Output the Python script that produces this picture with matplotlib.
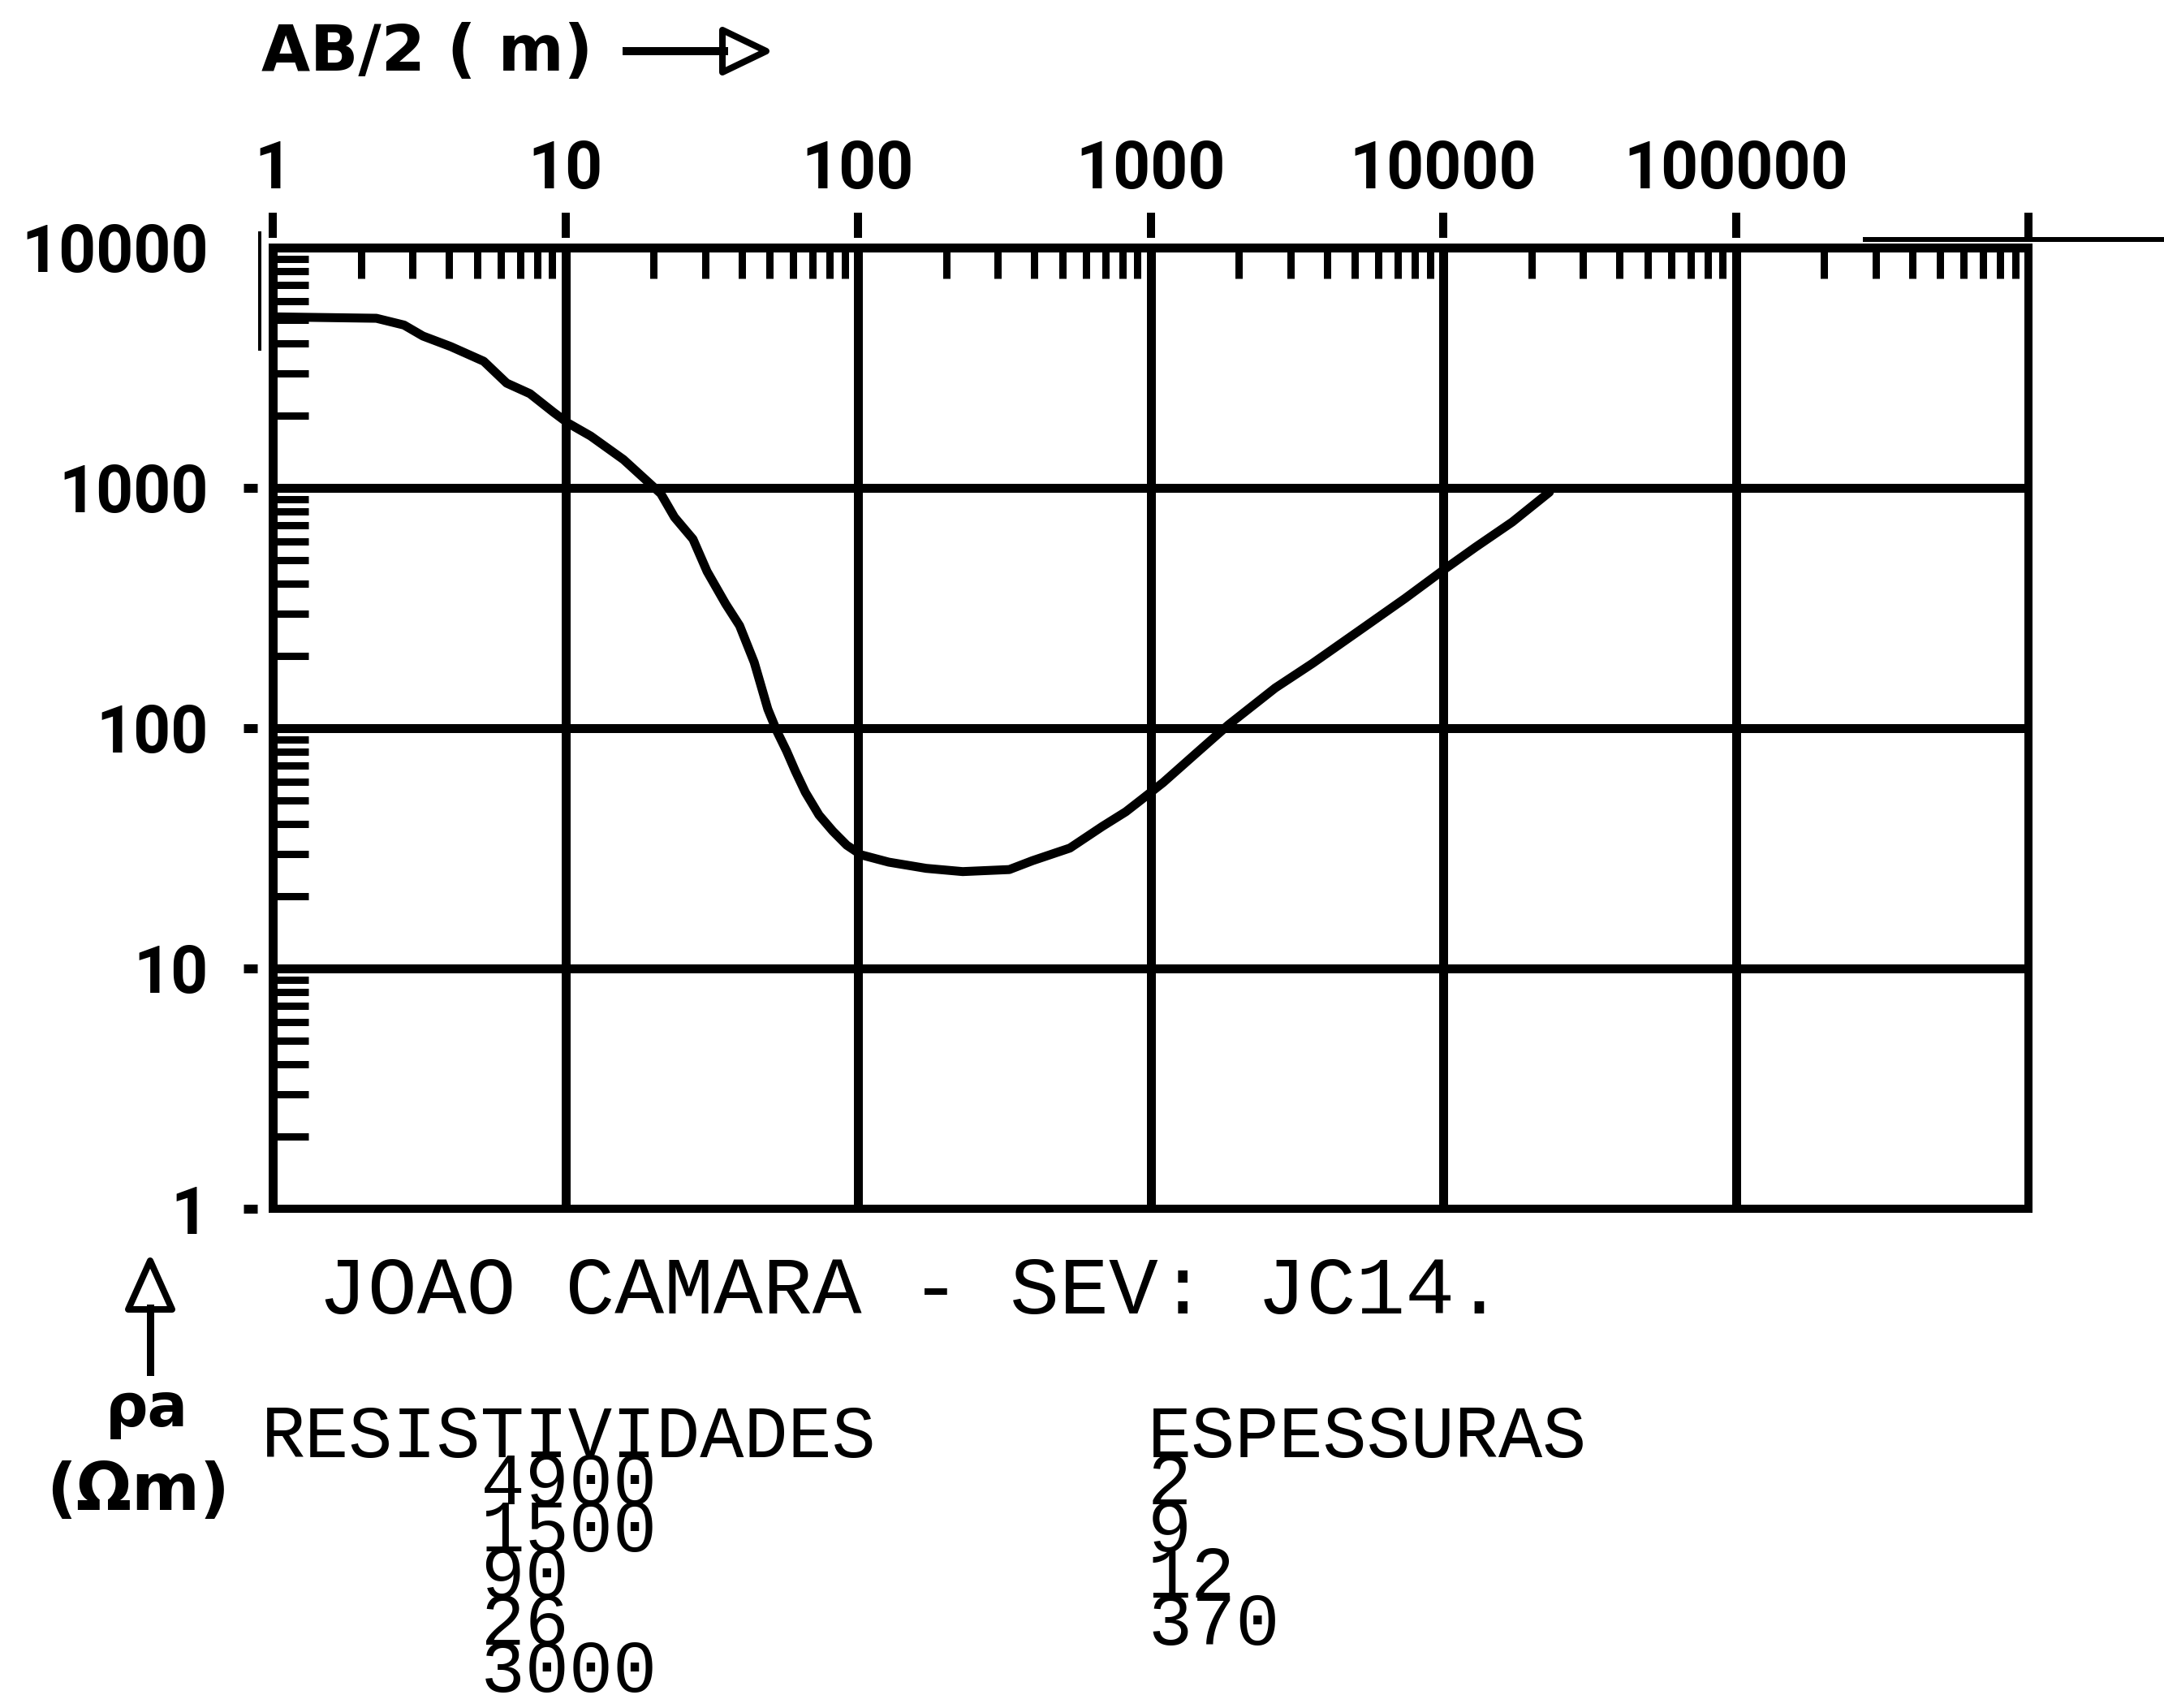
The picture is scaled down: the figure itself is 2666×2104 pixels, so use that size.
import matplotlib
matplotlib.use("Agg")
import matplotlib.pyplot as plt
from matplotlib import font_manager
from matplotlib.lines import Line2D
from matplotlib.patches import Polygon
from matplotlib.ticker import LogLocator, NullFormatter, FixedLocator, FixedFormatter

# ---- sounding curve: apparent resistivity vs half electrode spacing ----
ab2_m = [1.0, 2.26, 2.81, 3.26, 4.06, 5.26, 6.30, 7.57, 9.12, 10.2, 12.2, 15.8,
         19.0, 21.2, 23.6, 27.3, 30.5, 35.3, 39.4, 44.2, 49.2, 52.8, 57.0, 61.1,
         66.1, 73.6, 82.0, 91.5, 102.6, 127.4, 171, 228, 329, 395, 530, 684,
         823, 953, 1104, 1426, 1841, 2667, 3575, 5149, 7413, 10140, 12880,
         17220, 23070]
rho_a = [5150, 5080, 4760, 4285, 3873, 3365, 2729, 2466, 2061, 1862, 1644, 1312,
         1069, 946, 755, 612, 449, 329, 267, 188, 120, 97.3, 80.4, 66.2,
         54.1, 43.5, 37.3, 32.6, 29.7, 27.7, 26.1, 25.3, 25.8, 28.1, 31.7, 39.0,
         44.9, 51.6, 59.4, 78.3, 103, 147, 186, 254, 347, 460, 566,
         721, 960]

x_ticks = [1, 10, 100, 1000, 10000, 100000, 1000000]
x_tick_labels = ["1", "10", "100", "1000", "10000", "100000", ""]
y_ticks = [1, 10, 100, 1000, 10000]
y_tick_labels = ["1", "10", "100", "1000", "10000"]

# layered earth model
layer_resistivities = [4900, 1500, 90, 26, 3000]
layer_thicknesses = [2, 9, 12, 370]

title = "JOAO CAMARA - SEV: JC14."
x_label = "AB/2 ( m)"
y_label_top = "ρa"
y_label_unit = "(Ωm)"

# ---- canvas helpers (pixel positions on a 2666 x 2104 canvas) ----
W, H, DPI = 2666, 2104, 100
PT = 72.0 / DPI          # points per pixel


def fx(px):
    return px / W


def fy(py):
    return 1.0 - py / H


available = {f.name for f in font_manager.fontManager.ttflist}
if "Liberation Sans Narrow" in available:
    tick_family, tick_size = ["Liberation Sans Narrow", "DejaVu Sans"], 66
else:
    tick_family, tick_size = ["Roboto", "DejaVu Sans"], 58
mono_family = ["Liberation Mono", "DejaVu Sans Mono"]

fig = plt.figure(figsize=(W / DPI, H / DPI), dpi=DPI, facecolor="white")

left_px, right_px, top_px, bottom_px = 336, 2499, 305, 1489
ax = fig.add_axes([fx(left_px), fy(bottom_px),
                   fx(right_px) - fx(left_px), fy(top_px) - fy(bottom_px)])
ax.set_xscale("log")
ax.set_yscale("log")
ax.set_xlim(1, 1e6)
ax.set_ylim(1, 1e4)

# decade grid
ax.grid(True, which="major", color="black", linewidth=11 * PT)
for sp in ax.spines.values():
    sp.set_linewidth(10 * PT)
    sp.set_color("black")

# x axis: labels and minor ticks on top
ax.xaxis.set_ticks_position("top")
ax.xaxis.set_major_locator(FixedLocator(x_ticks))
ax.xaxis.set_major_formatter(FixedFormatter(x_tick_labels))
ax.xaxis.set_minor_locator(LogLocator(base=10, subs=range(2, 10), numticks=20))
ax.xaxis.set_minor_formatter(NullFormatter())
ax.tick_params(axis="x", which="major", top=True, bottom=False, length=0,
               pad=40, labeltop=True, labelbottom=False)
ax.tick_params(axis="x", which="minor", top=True, bottom=False, direction="in",
               length=38 * PT, width=9 * PT, color="black")

# y axis: labels and minor ticks on the left
ax.yaxis.set_ticks_position("left")
ax.yaxis.set_major_locator(FixedLocator(y_ticks))
ax.yaxis.set_major_formatter(FixedFormatter(y_tick_labels))
ax.yaxis.set_minor_locator(LogLocator(base=10, subs=range(2, 10), numticks=20))
ax.yaxis.set_minor_formatter(NullFormatter())
ax.tick_params(axis="y", which="major", left=True, right=False, length=0, pad=57)
ax.tick_params(axis="y", which="minor", left=True, right=False, direction="in",
               length=44 * PT, width=9 * PT, color="black")

for lab in ax.get_xticklabels() + ax.get_yticklabels():
    lab.set_fontfamily(tick_family)
    lab.set_fontweight("bold")
    lab.set_fontsize(tick_size)

# detached decade marks above the top frame and left of the left frame
ax.vlines(x_ticks, 1.0101, 1.0363, transform=ax.get_xaxis_transform(),
          colors="black", linewidth=10 * PT, clip_on=False)
ax.hlines(y_ticks[:-1], -0.0166, -0.0088, transform=ax.get_yaxis_transform(),
          colors="black", linewidth=11 * PT, clip_on=False)

# sounding curve
ax.plot(ab2_m, rho_a, color="black", linewidth=11 * PT,
        solid_joinstyle="round", solid_capstyle="round", zorder=5)

# stray pen strokes of the plotter frame
fig.add_artist(Line2D([fx(320), fx(320)], [fy(287), fy(430)],
                      transform=fig.transFigure, color="black", linewidth=4 * PT))
fig.add_artist(Line2D([fx(2298), fx(2666)], [fy(295), fy(295)],
                      transform=fig.transFigure, color="black", linewidth=6 * PT))

# x axis caption with open arrow
fig.text(fx(322), fy(87), x_label, fontfamily="DejaVu Sans", fontweight="bold",
         fontsize=56, ha="left", va="baseline")
fig.add_artist(Line2D([fx(772), fx(892)], [fy(63), fy(63)],
                      transform=fig.transFigure, color="black", linewidth=10 * PT))
fig.add_artist(Polygon([[fx(890), fy(37)], [fx(944), fy(63)], [fx(890), fy(89)]],
                       closed=True, transform=fig.transFigure, facecolor="white",
                       edgecolor="black", linewidth=8 * PT, joinstyle="round"))

# y axis caption with open arrow
fig.add_artist(Line2D([fx(185), fx(185)], [fy(1611), fy(1690)],
                      transform=fig.transFigure, color="black", linewidth=9 * PT))
fig.add_artist(Polygon([[fx(158), fy(1613)], [fx(185), fy(1553)], [fx(212), fy(1613)]],
                       closed=True, transform=fig.transFigure, facecolor="white",
                       edgecolor="black", linewidth=8 * PT, joinstyle="round"))
fig.text(fx(181), fy(1757), y_label_top, fontfamily="DejaVu Sans", fontweight="bold",
         fontsize=53, ha="center", va="baseline")
fig.text(fx(170), fy(1860), y_label_unit, fontfamily="DejaVu Sans", fontweight="bold",
         fontsize=58, ha="center", va="baseline")

# station title
fig.text(fx(392), fy(1618), title, fontfamily=mono_family, fontsize=73,
         ha="left", va="baseline")

# model table: values indented under the header in a fixed-pitch column
res_block = "\n".join(["RESISTIVIDADES"] + ["     " + str(v) for v in layer_resistivities])
thk_block = "\n".join(["ESPESSURAS"] + [str(v) for v in layer_thicknesses])
fig.text(fx(322), fy(1729), res_block, fontfamily=mono_family, fontsize=65,
         ha="left", va="top", linespacing=0.588)
fig.text(fx(1414), fy(1729), thk_block, fontfamily=mono_family, fontsize=65,
         ha="left", va="top", linespacing=0.588)

fig.savefig("out.png", dpi=DPI, facecolor="white")
